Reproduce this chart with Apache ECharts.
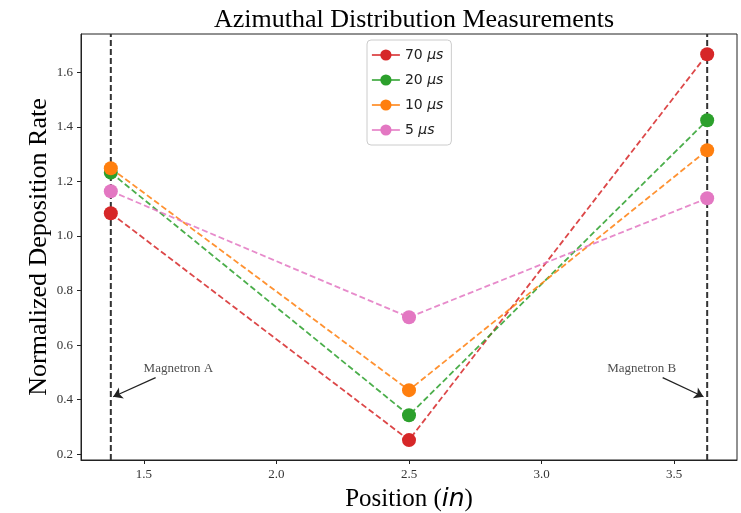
<!DOCTYPE html>
<html>
<head>
<meta charset="utf-8">
<script src="https://cdn.jsdelivr.net/npm/echarts@6/dist/echarts.min.js"></script>
<style>html,body{margin:0;padding:0;background:#fff}#c{width:741px;height:513px}</style>
</head>
<body>
<div id="c"></div>
<script>
const positions = [1.375, 2.5, 3.625];
const seriesNames = ['70 μs', '20 μs', '10 μs', '5 μs'];
const rate70 = [1.083, 0.252, 1.666];
const rate20 = [1.232, 0.343, 1.424];
const rate10 = [1.248, 0.435, 1.314];
const rate5 = [1.164, 0.702, 1.138];
const colors = ['#d62728', '#2ca02c', '#ff7f0e', '#e377c2'];
const xTicks = [1.5, 2.0, 2.5, 3.0, 3.5];
const yTicks = [0.2, 0.4, 0.6, 0.8, 1.0, 1.2, 1.4, 1.6];
const magnetronX = [1.375, 3.625];
const annotTexts = [
  {name: 'Magnetron A', value: [1.630, 0.515]},
  {name: 'Magnetron B', value: [3.378, 0.515]}
];
const annotArrows = [
  [[1.544, 0.481], [1.384, 0.411]],
  [[3.457, 0.481], [3.611, 0.411]]
];
const xMin = 1.2625, xMax = 3.7375, yMin = 0.179, yMax = 1.740;

const allRates = [rate70, rate20, rate10, rate5];
const chart = echarts.init(document.getElementById('c'));
const serif = '"Liberation Serif", "Times New Roman", serif';
const sans = '"DejaVu Sans", sans-serif';

const series = [];
magnetronX.forEach(function (mx, i) {
  series.push({
    type: 'line', name: 'vline' + i, silent: true, z: 1,
    data: [[mx, yMin], [mx, yMax]], symbol: 'none',
    lineStyle: {color: '#333', width: 2, type: [6, 3]},
    animation: false
  });
});
allRates.forEach(function (arr, i) {
  series.push({
    type: 'line', name: seriesNames[i], z: 2 + i,
    data: positions.map(function (p, j) { return [p, arr[j]]; }),
    symbol: 'circle', symbolSize: 14, showSymbol: true,
    itemStyle: {color: colors[i], opacity: 1},
    lineStyle: {color: colors[i], width: 1.8, type: [6, 3], opacity: 0.85},
    animation: false
  });
});
series.push({
  type: 'scatter', name: 'annot', silent: true, z: 10,
  data: annotTexts, symbolSize: 0,
  label: {show: true, position: 'inside', formatter: '{b}', color: '#222', fontFamily: serif, fontSize: 13},
  markLine: {
    silent: true, symbol: ['none', 'arrow'], symbolSize: 9,
    lineStyle: {color: '#222', width: 1.2, type: 'solid'},
    label: {show: false},
    data: annotArrows.map(function (a) { return [{coord: a[0]}, {coord: a[1]}]; }),
    animation: false
  },
  animation: false
});

chart.setOption({
  animation: false,
  title: {
    text: 'Azimuthal Distribution Measurements', left: 409, top: 2, textAlign: 'center',
    textStyle: {fontFamily: serif, fontSize: 26, fontWeight: 'normal', color: '#000'}
  },
  legend: {
    data: seriesNames, orient: 'vertical', left: 367, top: 40,
    padding: [8, 8, 8, 4], itemGap: 11, itemWidth: 28, itemHeight: 14,
    borderColor: '#ccc', borderWidth: 1, borderRadius: 4, backgroundColor: '#fff',
    lineStyle: {type: 'solid', width: 1.8},
    formatter: function (n) { const p = n.split(' '); return p[0] + ' {i|μs}'; },
    textStyle: {fontFamily: sans, fontSize: 14, color: '#222',
      rich: {i: {fontFamily: sans, fontStyle: 'italic', fontSize: 14, color: '#222'}}}
  },
  grid: {left: 81, right: 4, top: 34, bottom: 53, show: true, borderColor: '#222', borderWidth: 1,
    containLabel: false, outerBoundsMode: 'none'},
  xAxis: {
    type: 'value', min: xMin, max: xMax,
    name: 'Position ({i|in})', nameLocation: 'middle', nameGap: 27, nameMoveOverlap: false,
    nameTextStyle: {fontFamily: serif, fontSize: 25, color: '#000',
      rich: {i: {fontFamily: sans, fontStyle: 'italic', fontSize: 25, color: '#000'}}},
    splitLine: {show: false},
    axisLine: {show: true, lineStyle: {color: '#222'}},
    axisTick: {show: true, customValues: xTicks, length: 4, lineStyle: {color: '#222'}},
    axisLabel: {customValues: xTicks, formatter: function (v) { return v.toFixed(1); },
      fontFamily: serif, fontSize: 13, color: '#333', margin: 8}
  },
  yAxis: {
    type: 'value', min: yMin, max: yMax,
    name: 'Normalized Deposition Rate', nameLocation: 'middle', nameGap: 29, nameRotate: 90,
    nameMoveOverlap: false,
    nameTextStyle: {fontFamily: serif, fontSize: 26, color: '#000'},
    splitLine: {show: false},
    axisLine: {show: true, lineStyle: {color: '#222'}},
    axisTick: {show: true, customValues: yTicks, length: 4, lineStyle: {color: '#222'}},
    axisLabel: {customValues: yTicks, formatter: function (v) { return v.toFixed(1); },
      fontFamily: serif, fontSize: 13, color: '#333', margin: 8}
  },
  series: series
});
</script>
</body>
</html>
